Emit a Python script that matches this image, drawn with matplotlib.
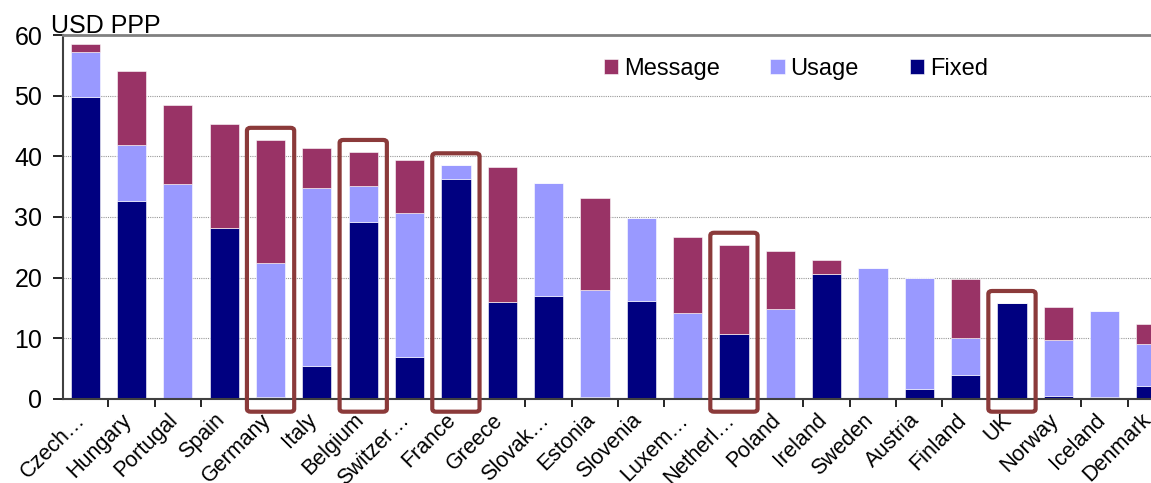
import numpy as np
import matplotlib.pyplot as plt
import matplotlib.transforms as mtransforms
from matplotlib.patches import FancyBboxPatch

plt.rcParams['font.family'] = ['Liberation Sans', 'DejaVu Sans']

countries = ['Czech\u2026', 'Hungary', 'Portugal', 'Spain', 'Germany', 'Italy', 'Belgium',
             'Switzer\u2026', 'France', 'Greece', 'Slovak\u2026', 'Estonia', 'Slovenia',
             'Luxem\u2026', 'Netherl\u2026', 'Poland', 'Ireland', 'Sweden', 'Austria',
             'Finland', 'UK', 'Norway', 'Iceland', 'Denmark']
# cumulative tops (fixed, fixed+usage, total)
fixed_top = [49.8, 32.6, 0.0, 28.2, 0.3, 5.5, 29.2, 6.9, 36.3, 16.0, 17.0, 0.4,
             16.1, 0.0, 10.7, 0.0, 20.6, 0.0, 1.6, 4.0, 15.8, 0.5, 0.3, 2.1]
usage_top = [57.2, 41.8, 35.4, 28.2, 22.4, 34.8, 35.1, 30.6, 38.5, 16.0, 35.6, 18.0,
             29.8, 14.2, 10.7, 14.8, 20.6, 21.6, 19.9, 10.0, 15.8, 9.7, 14.5, 9.1]
total = [58.6, 54.0, 48.4, 45.3, 42.7, 41.4, 40.7, 39.4, 38.5, 38.2, 35.6, 33.1,
         29.8, 26.7, 25.4, 24.4, 22.9, 21.6, 19.9, 19.8, 15.8, 15.2, 14.5, 12.4]

highlight = ['Germany', 'Belgium', 'France', 'Netherl\u2026', 'UK']

fixed = np.array(fixed_top)
usage = np.array(usage_top) - fixed
message = np.array(total) - np.array(usage_top)

c_fixed = '#000080'
c_usage = '#9999FF'
c_msg = '#993366'

fig = plt.figure(figsize=(11.51, 4.83), dpi=100)
ax = fig.add_axes([0.0547, 0.174, 0.9453, 0.7535])

x = np.arange(len(countries))
w = 0.63
ax.bar(x, fixed, w, color=c_fixed, edgecolor='white', linewidth=0.4, label='Fixed', zorder=2)
ax.bar(x, usage, w, bottom=fixed, color=c_usage, edgecolor='white', linewidth=0.4, label='Usage', zorder=2)
ax.bar(x, message, w, bottom=fixed + usage, color=c_msg, edgecolor='white', linewidth=0.4, label='Message', zorder=2)

for name in highlight:
    i = countries.index(name)
    top = total[i] + 2.0
    box = FancyBboxPatch((i - 0.51, -2.1), 1.02, top + 2.1,
                         boxstyle='round,pad=0,rounding_size=0.08',
                         fill=False, edgecolor='#8B3A3A', linewidth=3,
                         clip_on=False, zorder=3, mutation_aspect=6)
    ax.add_patch(box)

ax.set_ylim(0, 60)
ax.set_xlim(-0.48, 22.28)
ax.set_yticks(range(0, 61, 10))
ax.tick_params(axis='y', labelsize=18, length=7, direction='out', width=1.2, pad=8)
ax.set_xticks(x)
ax.set_xticklabels(countries, rotation=45, ha='right', va='center',
                   rotation_mode='anchor', fontsize=15.5)
ax.tick_params(axis='x', length=0, pad=13)
shift = mtransforms.ScaledTranslation(-3 / 100, 0, fig.dpi_scale_trans)
for lab in ax.get_xticklabels():
    lab.set_transform(lab.get_transform() + shift)
ax.set_xticks(x[:-1] + 0.5, minor=True)
ax.tick_params(axis='x', which='minor', length=6, direction='out', width=1.2)

ax.yaxis.grid(True, linestyle=(0, (1, 1)), color='#999999', linewidth=0.8, zorder=0)
ax.set_axisbelow(True)

ax.spines['right'].set_visible(False)
ax.spines['top'].set_color('#808080')
ax.spines['top'].set_linewidth(2)
ax.spines['left'].set_color('#404040')
ax.spines['left'].set_linewidth(1.5)
ax.spines['bottom'].set_color('#404040')
ax.spines['bottom'].set_linewidth(1.5)

fig.text(0.044, 0.932, 'USD PPP', fontsize=18, ha='left', va='baseline')

h, l = ax.get_legend_handles_labels()
ax.legend(h[::-1], l[::-1], loc='upper left', bbox_to_anchor=(0.4775, 0.995), ncol=3,
          frameon=False, fontsize=17, handlelength=0.6, handleheight=0.6,
          columnspacing=2.15, handletextpad=0.25)

fig.savefig('out.png', dpi=100)
